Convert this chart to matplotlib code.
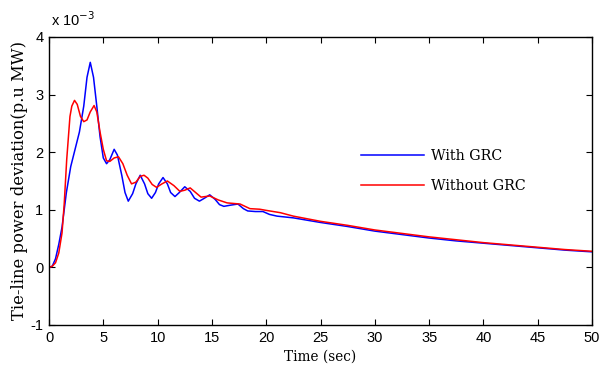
import matplotlib
matplotlib.use("Agg")
import matplotlib.pyplot as plt

plt.rcParams['axes.unicode_minus'] = False

# Time (sec) and tie-line power deviation (x 1e-3 p.u MW)
t_with = [0, 0.3, 0.6, 0.9, 1.2, 1.6, 2.0, 2.4, 2.8, 3.2, 3.5, 3.8, 4.1, 4.4, 4.7,
          5.0, 5.3, 5.6, 6.0, 6.3, 6.7, 7.0, 7.3, 7.7, 8.0, 8.4, 8.8, 9.1, 9.45, 9.8,
          10.1, 10.5, 10.9, 11.2, 11.6, 12.0, 12.5, 13.0, 13.4, 13.85, 14.3, 14.8,
          15.3, 15.7, 16.1, 16.7, 17.4, 17.9, 18.3, 19.0, 19.7, 20.3, 21, 22.5, 25,
          27.5, 30, 32.5, 35, 37.5, 40, 42.5, 45, 47.5, 50]
v_with = [0, 0.02, 0.15, 0.4, 0.7, 1.3, 1.75, 2.05, 2.35, 2.8, 3.3, 3.56, 3.3, 2.8, 2.27,
          1.9, 1.8, 1.87, 2.05, 1.95, 1.6, 1.3, 1.15, 1.28, 1.45, 1.6, 1.45, 1.28, 1.2, 1.3,
          1.45, 1.56, 1.45, 1.3, 1.23, 1.3, 1.4, 1.32, 1.2, 1.15, 1.2, 1.26,
          1.18, 1.09, 1.06, 1.08, 1.1, 1.02, 0.98, 0.97, 0.97, 0.92, 0.89, 0.86, 0.78,
          0.71, 0.63, 0.57, 0.51, 0.46, 0.42, 0.38, 0.34, 0.30, 0.27]

t_without = [0, 0.3, 0.6, 0.9, 1.2, 1.4, 1.63, 1.93, 2.1, 2.35, 2.6, 2.9, 3.2, 3.5, 3.8,
             4.15, 4.4, 4.7, 5.0, 5.3, 5.6, 6.0, 6.4, 6.8, 7.2, 7.6, 8.0, 8.4, 8.75, 9.1,
             9.5, 9.9, 10.4, 10.9, 11.5, 12.05, 12.5, 13.0, 13.5, 14.0, 14.8, 15.6, 16.4,
             17.0, 17.6, 18.5, 19.4, 20, 21.3, 22.5, 25, 27.5, 30, 32.5, 35, 37.5, 40,
             42.5, 45, 47.5, 50]
v_without = [0, 0.02, 0.08, 0.25, 0.6, 1.1, 1.87, 2.62, 2.8, 2.9, 2.83, 2.62, 2.53, 2.56, 2.7,
             2.81, 2.7, 2.35, 2.05, 1.85, 1.84, 1.9, 1.92, 1.8, 1.6, 1.45, 1.48, 1.58, 1.6, 1.55,
             1.44, 1.39, 1.45, 1.5, 1.42, 1.32, 1.34, 1.38, 1.3, 1.22, 1.24, 1.17, 1.12,
             1.11, 1.10, 1.02, 1.01, 0.99, 0.95, 0.89, 0.80, 0.73, 0.65, 0.59, 0.53, 0.48, 0.43,
             0.39, 0.35, 0.31, 0.28]

x_ticks = [0, 5, 10, 15, 20, 25, 30, 35, 40, 45, 50]
y_ticks = [-1, 0, 1, 2, 3, 4]

fig = plt.figure(figsize=(6, 3.75), dpi=100)
ax = fig.add_axes([49/600, 50/375, 543/600, 288/375])

ax.plot(t_with, v_with, color='#0000ff', lw=1.1, label='With GRC')
ax.plot(t_without, v_without, color='#ff0000', lw=1.1, label='Without GRC')

ax.set_xlim(0, 50)
ax.set_ylim(-1, 4)
ax.set_xticks(x_ticks)
ax.set_yticks(y_ticks)
tick_font = ['Liberation Sans Narrow', 'Liberation Sans']
ax.tick_params(direction='in', top=True, right=True, length=4, width=0.8, labelsize=10.5, pad=4)
for lab in ax.get_xticklabels() + ax.get_yticklabels():
    lab.set_family(tick_font)
for s in ax.spines.values():
    s.set_linewidth(1.0)

serif = ['DejaVu Serif']
ax.set_xlabel('Time (sec)', family=serif, fontsize=9.8, labelpad=4)
ax.set_ylabel('Tie-line power deviation(p.u MW)', family=serif, fontsize=11.8, labelpad=2)

fig.text(51/600, 1 - 20/375, r'x 10$^{-3}$', family=tick_font, fontsize=10.5, va='center', ha='left')

leg = ax.legend(loc='center left', bbox_to_anchor=(0.551, 0.535), frameon=False,
                prop={'family': serif, 'size': 10.3}, handlelength=4.4, labelspacing=1.1,
                handletextpad=0.5)

fig.savefig('out.png', dpi=100)
